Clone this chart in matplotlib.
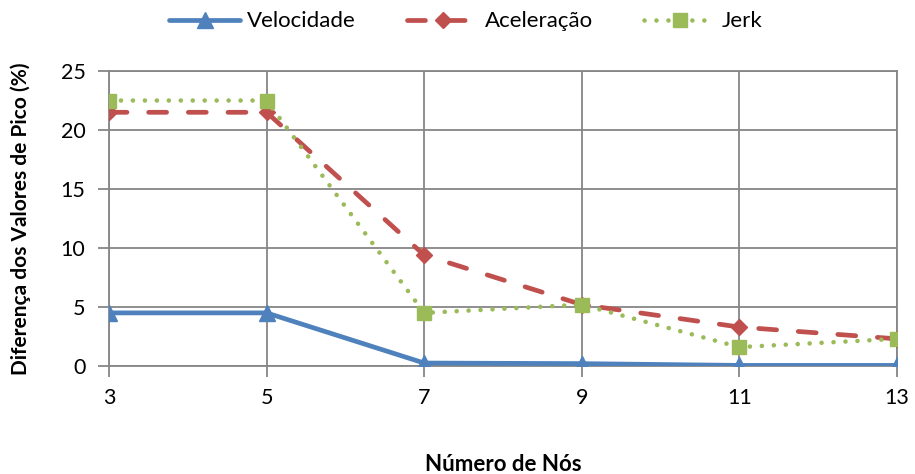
import matplotlib.pyplot as plt

# Data
nos = [3, 5, 7, 9, 11, 13]
velocidade = [4.5, 4.5, 0.25, 0.2, 0.05, 0.05]
aceleracao = [21.5, 21.5, 9.4, 5.2, 3.3, 2.3]
jerk = [22.5, 22.5, 4.5, 5.2, 1.6, 2.3]
y_ticks = [0, 5, 10, 15, 20, 25]

plt.rcParams['font.family'] = ['Lato', 'DejaVu Sans']

fig = plt.figure(figsize=(9.15, 4.74), dpi=100)
ax = fig.add_axes([109 / 915, 108 / 474, 788 / 915, 295 / 474])

grid_color = '#868686'

ax.plot(nos, velocidade, color='#4F81BD', lw=3.4, marker='^', ms=11,
        label='Velocidade', solid_capstyle='round', zorder=3)
ax.plot(nos, aceleracao, color='#C0504D', lw=3.4, ls=(0, (3.8, 4.6)), marker='D', ms=8.5,
        label='Aceleração', dash_capstyle='round', zorder=4)
ax.plot(nos, jerk, color='#9BBB59', lw=3.3, ls=(0, (0.01, 2.6)), marker='s', ms=10.5,
        label='Jerk', dash_capstyle='round', zorder=5)

ax.set_xlim(3, 13)
ax.set_ylim(0, 25)
ax.set_xticks(nos)
ax.set_yticks(y_ticks)
ax.grid(True, color=grid_color, lw=1.3)
for s in ax.spines.values():
    s.set_color(grid_color)
    s.set_linewidth(1.3)
ax.tick_params(axis='both', colors=grid_color, labelcolor='black', labelsize=15.5,
               length=8, width=1.3)
ax.tick_params(axis='x', pad=8)
ax.tick_params(axis='y', pad=9)

ax.set_xlabel('Número de Nós', fontsize=16, fontweight='bold', labelpad=33)
ax.set_ylabel('Diferença dos Valores de Pico (%)', fontsize=15, fontweight='bold', labelpad=21)

ax.legend(loc='upper center', bbox_to_anchor=(0.453, 1.27), ncol=3, frameon=False,
          fontsize=16, handlelength=3.2, columnspacing=2.3, handletextpad=0.3)

fig.savefig('out.png', dpi=100)
